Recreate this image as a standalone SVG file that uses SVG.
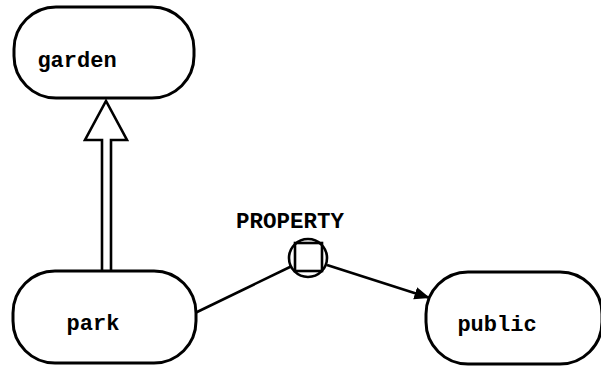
<svg xmlns="http://www.w3.org/2000/svg" width="601" height="366" viewBox="0 0 601 366">
<defs>
<style>
.node{fill:#fff;stroke:#000;stroke-width:3}
.lbl{font-family:"Liberation Mono","DejaVu Sans Mono",monospace;font-weight:bold;font-size:22px;fill:#000}
.con{fill:none;stroke:#000;stroke-width:2.6}
</style>
<marker id="ah" viewBox="0 0 10 10" refX="10" refY="5" markerWidth="6" markerHeight="6" markerUnits="strokeWidth" orient="auto">
<path d="M0,1 L10,5 L0,9 z" fill="#000"/>
</marker>
</defs>
<rect width="601" height="366" fill="#fff"/>
<g id="connectors">
<path class="con" d="M102,270 V140 H85 L106,101 L127,140 H111 V270" stroke-linejoin="miter"/>
<line class="con" x1="195" y1="313" x2="292" y2="266"/>
<line class="con" x1="327" y1="265" x2="430" y2="298" marker-end="url(#ah)"/>
<g id="property">
<circle cx="308" cy="258" r="19" fill="#fff" stroke="#000" stroke-width="2.6"/>
<rect x="295" y="243" width="27" height="28" fill="none" stroke="#000" stroke-width="2.6"/>
<text x="290" y="228" text-anchor="middle" class="lbl" style="font-size:22.5px">PROPERTY</text>
</g>
</g>
<g id="garden">
<rect class="node" x="14" y="7" width="180" height="91" rx="42" ry="42"/>
<text x="77" y="67" text-anchor="middle" class="lbl">garden</text>
</g>
<g id="park">
<rect class="node" x="13" y="271" width="183" height="92" rx="42" ry="42"/>
<text x="93" y="330" text-anchor="middle" class="lbl">park</text>
</g>
<g id="public">
<rect class="node" x="426" y="272" width="176" height="92" rx="42" ry="42"/>
<text x="497" y="331" text-anchor="middle" class="lbl">public</text>
</g>
</svg>
